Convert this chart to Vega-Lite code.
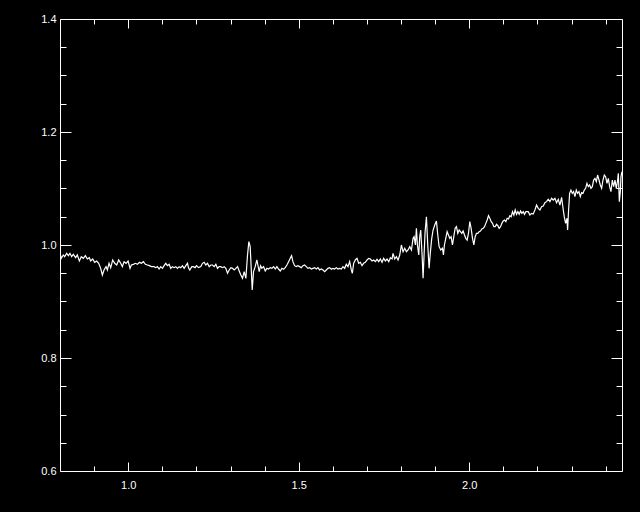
{
  "$schema": "https://vega.github.io/schema/vega-lite/v6.json",
  "width": 562,
  "height": 452,
  "autosize": {"type": "none"},
  "padding": {"left": 60, "top": 19, "right": 18, "bottom": 41},
  "background": "black",
  "config": {
    "view": {"stroke": null},
    "axis": {
      "domainColor": "white", "tickColor": "white", "labelColor": "white",
      "grid": false, "title": null, "labelFont": "Liberation Sans", "labelFontSize": 11,
      "tickWidth": 1, "domainWidth": 1, "labelFlush": false, "labelOverlap": false, "format": ".1f"
    }
  },
  "data": {"values": [
    {"w":0.8000,"f":0.9853},{"w":0.8038,"f":0.9764},{"w":0.8097,"f":0.9823},{"w":0.8136,"f":0.9793},{"w":0.8195,"f":0.9853},{"w":0.8244,"f":0.9811},{"w":0.8293,"f":0.9853},{"w":0.8341,"f":0.9793},{"w":0.8390,"f":0.9835},{"w":0.8459,"f":0.9776},{"w":0.8508,"f":0.9823},{"w":0.8567,"f":0.9717},{"w":0.8625,"f":0.9793},{"w":0.8684,"f":0.9764},{"w":0.8743,"f":0.9811},{"w":0.8802,"f":0.9752},{"w":0.8860,"f":0.9776},{"w":0.8899,"f":0.9717},{"w":0.8958,"f":0.9752},{"w":0.9017,"f":0.9693},{"w":0.9076,"f":0.9717},{"w":0.9134,"f":0.9676},{"w":0.9193,"f":0.9587},{"w":0.9242,"f":0.9469},{"w":0.9291,"f":0.9558},{"w":0.9350,"f":0.9617},{"w":0.9389,"f":0.9558},{"w":0.9438,"f":0.9676},{"w":0.9487,"f":0.9599},{"w":0.9545,"f":0.9735},{"w":0.9604,"f":0.9676},{"w":0.9663,"f":0.9646},{"w":0.9721,"f":0.9735},{"w":0.9780,"f":0.9676},{"w":0.9829,"f":0.9617},{"w":0.9878,"f":0.9705},{"w":0.9937,"f":0.9676},{"w":0.9996,"f":0.9717},{"w":1.0054,"f":0.9587},{"w":1.0093,"f":0.9646},{"w":1.0152,"f":0.9658},{"w":1.0211,"f":0.9676},{"w":1.0270,"f":0.9658},{"w":1.0328,"f":0.9693},{"w":1.0387,"f":0.9676},{"w":1.0446,"f":0.9705},{"w":1.0504,"f":0.9658},{"w":1.0563,"f":0.9646},{"w":1.0622,"f":0.9634},{"w":1.0681,"f":0.9617},{"w":1.0759,"f":0.9617},
    {"w":1.0808,"f":0.9599},{"w":1.0857,"f":0.9617},{"w":1.0906,"f":0.9575},{"w":1.0955,"f":0.9617},{"w":1.1004,"f":0.9587},{"w":1.1053,"f":0.9634},{"w":1.1101,"f":0.9676},{"w":1.1150,"f":0.9634},{"w":1.1199,"f":0.9658},{"w":1.1248,"f":0.9587},{"w":1.1297,"f":0.9617},{"w":1.1346,"f":0.9599},{"w":1.1395,"f":0.9617},{"w":1.1444,"f":0.9587},{"w":1.1493,"f":0.9617},{"w":1.1542,"f":0.9599},{"w":1.1591,"f":0.9634},{"w":1.1640,"f":0.9587},{"w":1.1689,"f":0.9634},{"w":1.1738,"f":0.9676},{"w":1.1767,"f":0.9599},{"w":1.1806,"f":0.9558},{"w":1.1865,"f":0.9617},{"w":1.1904,"f":0.9617},{"w":1.1963,"f":0.9599},{"w":1.2002,"f":0.9634},{"w":1.2061,"f":0.9599},{"w":1.2129,"f":0.9617},{"w":1.2178,"f":0.9676},{"w":1.2227,"f":0.9693},{"w":1.2276,"f":0.9646},{"w":1.2325,"f":0.9676},{"w":1.2374,"f":0.9617},{"w":1.2423,"f":0.9646},{"w":1.2472,"f":0.9646},{"w":1.2521,"f":0.9617},{"w":1.2570,"f":0.9658},{"w":1.2618,"f":0.9587},{"w":1.2667,"f":0.9617},{"w":1.2716,"f":0.9617},{"w":1.2765,"f":0.9599},{"w":1.2814,"f":0.9617},{"w":1.2863,"f":0.9587},{"w":1.2912,"f":0.9499},{"w":1.2961,"f":0.9558},{"w":1.3010,"f":0.9599},{"w":1.3059,"f":0.9587},{"w":1.3108,"f":0.9558},{"w":1.3157,"f":0.9587},{"w":1.3206,"f":0.9617},{"w":1.3255,"f":0.9540},{"w":1.3303,"f":0.9469},{"w":1.3352,"f":0.9410},{"w":1.3401,"f":0.9528},{"w":1.3450,"f":0.9410},{"w":1.3499,"f":0.9823},
    {"w":1.3538,"f":1.0059},{"w":1.3577,"f":0.9970},{"w":1.3607,"f":0.9587},{"w":1.3636,"f":0.9204},{"w":1.3675,"f":0.9528},{"w":1.3724,"f":0.9617},{"w":1.3773,"f":0.9735},{"w":1.3802,"f":0.9646},{"w":1.3842,"f":0.9528},{"w":1.3881,"f":0.9634},{"w":1.3920,"f":0.9587},{"w":1.3969,"f":0.9617},{"w":1.4018,"f":0.9540},{"w":1.4067,"f":0.9587},{"w":1.4116,"f":0.9575},{"w":1.4165,"f":0.9599},{"w":1.4214,"f":0.9587},{"w":1.4263,"f":0.9617},{"w":1.4312,"f":0.9575},{"w":1.4360,"f":0.9617},{"w":1.4409,"f":0.9575},{"w":1.4458,"f":0.9540},{"w":1.4507,"f":0.9587},{"w":1.4556,"f":0.9570},{"w":1.4605,"f":0.9599},{"w":1.4654,"f":0.9646},{"w":1.4703,"f":0.9705},{"w":1.4752,"f":0.9764},{"w":1.4791,"f":0.9811},{"w":1.4830,"f":0.9705},{"w":1.4879,"f":0.9634},{"w":1.4928,"f":0.9617},{"w":1.4977,"f":0.9634},{"w":1.5026,"f":0.9617},{"w":1.5075,"f":0.9599},{"w":1.5124,"f":0.9634},{"w":1.5173,"f":0.9646},{"w":1.5222,"f":0.9617},{"w":1.5271,"f":0.9587},{"w":1.5320,"f":0.9599},{"w":1.5368,"f":0.9575},{"w":1.5417,"f":0.9587},{"w":1.5466,"f":0.9599},{"w":1.5515,"f":0.9575},{"w":1.5564,"f":0.9599},{"w":1.5613,"f":0.9558},{"w":1.5662,"f":0.9575},{"w":1.5711,"f":0.9558},{"w":1.5760,"f":0.9528},{"w":1.5809,"f":0.9558},{"w":1.5858,"f":0.9587},{"w":1.5907,"f":0.9599},{"w":1.5956,"f":0.9570},{"w":1.6005,"f":0.9587},{"w":1.6054,"f":0.9575},{"w":1.6103,"f":0.9599},{"w":1.6152,"f":0.9575},
    {"w":1.6200,"f":0.9587},{"w":1.6249,"f":0.9575},{"w":1.6298,"f":0.9617},{"w":1.6347,"f":0.9587},{"w":1.6396,"f":0.9658},{"w":1.6445,"f":0.9617},{"w":1.6494,"f":0.9705},{"w":1.6543,"f":0.9558},{"w":1.6572,"f":0.9499},{"w":1.6611,"f":0.9676},{"w":1.6660,"f":0.9735},{"w":1.6709,"f":0.9764},{"w":1.6758,"f":0.9676},{"w":1.6807,"f":0.9693},{"w":1.6856,"f":0.9634},{"w":1.6905,"f":0.9676},{"w":1.6954,"f":0.9693},{"w":1.7003,"f":0.9735},{"w":1.7052,"f":0.9764},{"w":1.7101,"f":0.9752},{"w":1.7150,"f":0.9717},{"w":1.7199,"f":0.9735},{"w":1.7248,"f":0.9705},{"w":1.7296,"f":0.9746},{"w":1.7345,"f":0.9705},{"w":1.7394,"f":0.9752},{"w":1.7443,"f":0.9693},{"w":1.7492,"f":0.9764},{"w":1.7541,"f":0.9717},{"w":1.7590,"f":0.9752},{"w":1.7639,"f":0.9705},{"w":1.7688,"f":0.9776},{"w":1.7737,"f":0.9752},{"w":1.7766,"f":0.9853},{"w":1.7815,"f":0.9752},{"w":1.7864,"f":0.9793},{"w":1.7913,"f":0.9735},{"w":1.7962,"f":0.9823},{"w":1.8011,"f":1.0000},{"w":1.8060,"f":0.9882},{"w":1.8109,"f":0.9941},{"w":1.8158,"f":0.9882},{"w":1.8207,"f":0.9912},{"w":1.8256,"f":0.9970},{"w":1.8305,"f":0.9912},{"w":1.8353,"f":1.0118},{"w":1.8383,"f":1.0147},{"w":1.8422,"f":1.0000},{"w":1.8451,"f":1.0295},{"w":1.8481,"f":1.0000},{"w":1.8520,"f":0.9823},{"w":1.8549,"f":1.0147},{"w":1.8578,"f":1.0265},{"w":1.8618,"f":0.9823},{"w":1.8647,"f":0.9410},{"w":1.8676,"f":0.9823},{"w":1.8706,"f":1.0236},{"w":1.8745,"f":1.0501},{"w":1.8784,"f":1.0000},{"w":1.8823,"f":0.9587},{"w":1.8862,"f":0.9882},{"w":1.8901,"f":1.0118},{"w":1.8940,"f":1.0265},{"w":1.8989,"f":1.0354},
    {"w":1.9038,"f":1.0425},{"w":1.9078,"f":1.0177},{"w":1.9117,"f":0.9970},{"w":1.9166,"f":0.9912},{"w":1.9215,"f":0.9941},{"w":1.9244,"f":0.9823},{"w":1.9273,"f":1.0000},{"w":1.9312,"f":1.0118},{"w":1.9352,"f":1.0236},{"w":1.9391,"f":1.0177},{"w":1.9430,"f":1.0118},{"w":1.9469,"f":1.0147},{"w":1.9508,"f":1.0000},{"w":1.9547,"f":1.0147},{"w":1.9587,"f":1.0295},{"w":1.9626,"f":1.0324},{"w":1.9665,"f":1.0206},{"w":1.9704,"f":1.0265},{"w":1.9743,"f":1.0236},{"w":1.9782,"f":1.0206},{"w":1.9821,"f":1.0248},{"w":1.9861,"f":1.0177},{"w":1.9900,"f":1.0118},{"w":1.9939,"f":1.0088},{"w":1.9978,"f":1.0206},{"w":2.0017,"f":1.0413},{"w":2.0056,"f":1.0295},{"w":2.0096,"f":1.0118},{"w":2.0135,"f":1.0000},{"w":2.0174,"f":1.0147},{"w":2.0213,"f":1.0206},{"w":2.0252,"f":1.0206},{"w":2.0291,"f":1.0236},{"w":2.0330,"f":1.0248},{"w":2.0370,"f":1.0283},{"w":2.0409,"f":1.0295},{"w":2.0448,"f":1.0324},{"w":2.0487,"f":1.0383},{"w":2.0526,"f":1.0442},{"w":2.0565,"f":1.0519},{"w":2.0604,"f":1.0472},{"w":2.0644,"f":1.0413},{"w":2.0683,"f":1.0383},{"w":2.0722,"f":1.0324},{"w":2.0761,"f":1.0324},{"w":2.0800,"f":1.0366},{"w":2.0839,"f":1.0342},{"w":2.0878,"f":1.0295},{"w":2.0918,"f":1.0324},{"w":2.0957,"f":1.0383},{"w":2.0996,"f":1.0425},{"w":2.1035,"f":1.0442},{"w":2.1074,"f":1.0413},{"w":2.1113,"f":1.0472},{"w":2.1152,"f":1.0460},{"w":2.1192,"f":1.0519},{"w":2.1231,"f":1.0501},{"w":2.1270,"f":1.0590},{"w":2.1309,"f":1.0531},{"w":2.1348,"f":1.0619},{"w":2.1387,"f":1.0543},{"w":2.1426,"f":1.0590},{"w":2.1466,"f":1.0543},{"w":2.1505,"f":1.0602},{"w":2.1544,"f":1.0560},{"w":2.1583,"f":1.0590},{"w":2.1622,"f":1.0543},{"w":2.1661,"f":1.0590},
    {"w":2.1730,"f":1.0590},{"w":2.1779,"f":1.0531},{"w":2.1828,"f":1.0560},{"w":2.1877,"f":1.0549},{"w":2.1926,"f":1.0619},{"w":2.1975,"f":1.0708},{"w":2.2024,"f":1.0649},{"w":2.2073,"f":1.0619},{"w":2.2122,"f":1.0678},{"w":2.2171,"f":1.0690},{"w":2.2219,"f":1.0749},{"w":2.2268,"f":1.0767},{"w":2.2317,"f":1.0808},{"w":2.2366,"f":1.0767},{"w":2.2415,"f":1.0826},{"w":2.2464,"f":1.0796},{"w":2.2513,"f":1.0826},{"w":2.2562,"f":1.0749},{"w":2.2611,"f":1.0808},{"w":2.2660,"f":1.0708},{"w":2.2709,"f":1.0844},{"w":2.2758,"f":1.0619},{"w":2.2787,"f":1.0501},{"w":2.2826,"f":1.0383},{"w":2.2865,"f":1.0472},{"w":2.2885,"f":1.0265},{"w":2.2914,"f":1.0619},{"w":2.2944,"f":1.0914},{"w":2.2983,"f":1.0973},{"w":2.3022,"f":1.0914},{"w":2.3061,"f":1.0944},{"w":2.3100,"f":1.0855},{"w":2.3139,"f":1.0973},{"w":2.3178,"f":1.0914},{"w":2.3218,"f":1.0944},{"w":2.3257,"f":1.0855},{"w":2.3296,"f":1.0926},{"w":2.3335,"f":1.0914},{"w":2.3374,"f":1.0973},{"w":2.3413,"f":1.1003},{"w":2.3452,"f":1.1091},{"w":2.3492,"f":1.1032},{"w":2.3531,"f":1.1062},{"w":2.3570,"f":1.1003},{"w":2.3609,"f":1.1032},{"w":2.3648,"f":1.1150},{"w":2.3687,"f":1.1180},{"w":2.3726,"f":1.1121},{"w":2.3765,"f":1.1239},{"w":2.3805,"f":1.1150},{"w":2.3844,"f":1.1062},{"w":2.3883,"f":1.1003},{"w":2.3922,"f":1.1150},{"w":2.3961,"f":1.1239},{"w":2.4000,"f":1.1209},{"w":2.4040,"f":1.1091},{"w":2.4079,"f":1.1180},{"w":2.4118,"f":1.1032},{"w":2.4157,"f":1.0944},{"w":2.4196,"f":1.1150},{"w":2.4235,"f":1.1032},{"w":2.4274,"f":1.1150},{"w":2.4313,"f":1.1003},{"w":2.4353,"f":1.1150},{"w":2.4372,"f":1.1268},{"w":2.4402,"f":1.0767},{"w":2.4431,"f":1.0944},{"w":2.4450,"f":1.1209},{"w":2.4479,"f":1.1298}
  ]},
  "layer": [
    {
      "mark": {"type": "line", "color": "white", "strokeWidth": 1.2, "clip": true},
      "encoding": {
        "x": {"field": "w", "type": "quantitative", "scale": {"domain": [0.8, 2.448], "nice": false, "zero": false},
              "axis": {"orient": "bottom", "values": [1.0, 1.5, 2.0], "tickSize": -9, "labelPadding": 17}},
        "y": {"field": "f", "type": "quantitative", "scale": {"domain": [0.6, 1.4], "nice": false, "zero": false},
              "axis": {"orient": "left", "values": [0.6, 0.8, 1.0, 1.2, 1.4], "tickSize": -11, "labelPadding": 15}}
      }
    },
    {
      "mark": {"type": "line", "strokeOpacity": 0},
      "encoding": {
        "x": {"field": "w", "type": "quantitative",
              "axis": {"orient": "bottom", "values": [0.9, 1.1, 1.2, 1.3, 1.4, 1.6, 1.7, 1.8, 1.9, 2.1, 2.2, 2.3, 2.4], "tickSize": -5, "labels": false, "domain": false}},
        "y": {"field": "f", "type": "quantitative",
              "axis": {"orient": "left", "values": [0.65, 0.7, 0.75, 0.85, 0.9, 0.95, 1.05, 1.1, 1.15, 1.25, 1.3, 1.35], "tickSize": -6, "labels": false, "domain": false}}
      }
    },
    {
      "mark": {"type": "line", "strokeOpacity": 0},
      "encoding": {
        "x": {"field": "w", "type": "quantitative",
              "axis": {"orient": "top", "values": [1.0, 1.5, 2.0], "tickSize": -9, "labels": false}},
        "y": {"field": "f", "type": "quantitative",
              "axis": {"orient": "right", "values": [0.6, 0.8, 1.0, 1.2, 1.4], "tickSize": -11, "labels": false}}
      }
    },
    {
      "mark": {"type": "line", "strokeOpacity": 0},
      "encoding": {
        "x": {"field": "w", "type": "quantitative",
              "axis": {"orient": "top", "values": [0.9, 1.1, 1.2, 1.3, 1.4, 1.6, 1.7, 1.8, 1.9, 2.1, 2.2, 2.3, 2.4], "tickSize": -5, "labels": false, "domain": false}},
        "y": {"field": "f", "type": "quantitative",
              "axis": {"orient": "right", "values": [0.65, 0.7, 0.75, 0.85, 0.9, 0.95, 1.05, 1.1, 1.15, 1.25, 1.3, 1.35], "tickSize": -6, "labels": false, "domain": false}}
      }
    }
  ],
  "resolve": {"axis": {"x": "independent", "y": "independent"}}
}
